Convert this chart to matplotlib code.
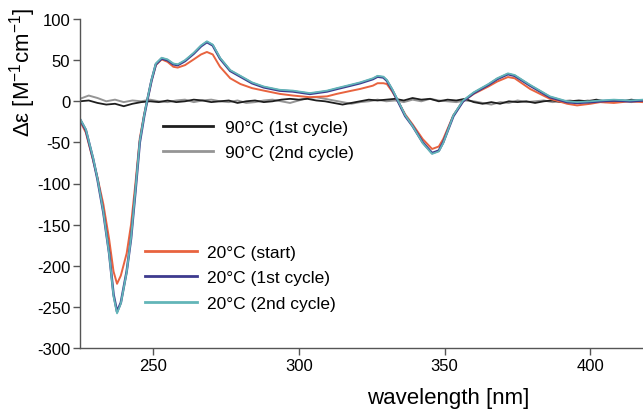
import matplotlib
matplotlib.use("Agg")
import matplotlib.pyplot as plt
from matplotlib.lines import Line2D

plt.rcParams['font.family'] = ['Liberation Sans', 'DejaVu Sans']
plt.rcParams['mathtext.fontset'] = 'custom'
plt.rcParams['mathtext.rm'] = 'Liberation Sans'
plt.rcParams['mathtext.default'] = 'regular'
plt.rcParams['axes.unicode_minus'] = False

# 20 C spectra
wl_20 = [225, 227, 229.5, 231, 233, 235, 236.5, 237.7, 239, 241, 242.5, 244, 245.5, 247, 248,
         249.5, 251, 253, 255, 257, 258.5, 261, 264, 266.5, 268.5, 270.5, 273, 276.5, 280, 284,
         288, 293.5, 298, 303.8, 309.7, 313, 317.6, 321, 325.4, 327, 329, 330.2, 332, 334,
         336.5, 339, 342.5, 345.7, 348, 349.5, 353, 356.3, 360, 365, 368, 371.7, 374, 379.3,
         386.1, 392, 395.4, 400, 403.3, 408, 413.5, 418]
cd_20_start = [-24, -38, -72, -93, -125, -168, -207, -222, -212, -185, -150, -100, -45, -16, 0,
               25, 44, 51, 48, 42, 41, 44, 51, 57, 60, 57, 42, 28, 21, 16,
               13, 9, 7, 5, 6, 9, 12.5, 15, 19, 22, 22, 21, 12, 0,
               -16, -28, -46, -58, -55, -46, -17, 0, 9, 18, 24, 29.5, 28, 15,
               3, -3, -5, -3, -1, -2, 0, -1]
cd_20_cyc1 = [-22, -35, -70, -95, -135, -185, -235, -256, -245, -207, -167, -110, -50, -18, 0,
              25, 45, 52, 50, 45, 44, 49, 58, 67, 72, 68, 52, 37, 30, 22,
              17, 13, 12, 9, 12, 15, 19, 22, 27, 30, 29, 25, 14, 0,
              -18, -30, -50, -63, -60, -50, -18, 0, 10, 20, 27, 33, 31, 19,
              5, -1, -2, -1, 0, 1, 0, 1]
cd_20_cyc2 = [-21, -34, -69, -94, -134, -186, -237, -258, -246, -208, -166, -108, -48, -17, 1,
              26, 46, 53, 51, 46, 45, 50, 59, 68, 73, 69, 53, 38, 31, 23,
              18, 14, 13, 10, 13, 16, 20, 23, 28, 31, 30, 26, 15, 1,
              -17, -30, -51, -64, -61, -51, -17, 1, 11, 21, 28, 34, 32, 20,
              6, 0, -1, 0, 1, 2, 1, 2]

# 90 C spectra (flat, just noise around zero)
wl_90 = [225, 228, 231, 234, 237, 240, 243, 246, 249, 252, 255, 258, 261, 264, 267, 270, 273,
         276, 279, 282, 285, 288, 291, 294, 297, 300, 303, 306, 309, 312, 315, 318, 321, 324,
         327, 330, 333, 336, 339, 342, 345, 348, 351, 354, 357, 360, 363, 366, 369, 372, 375,
         378, 381, 384, 387, 390, 393, 396, 399, 402, 405, 408, 411, 414, 418]
cd_90_cyc1 = [0, 1, -2, -4, -3, -6, -3, -1, 0, -1, 1, -1, 0, 2, 1, -1, 0,
              1, -2, 0, 1, -1, 0, 2, 3, 2, 3, 1, 0, -2, -4, -2, 0, 2,
              1, 2, 3, 1, 4, 2, 3, 0, 2, 1, 3, -1, -3, -1, -3, 0, -1,
              0, -2, 0, 1, -1, 0, 1, 0, 2, 0, 1, 0, 2, 0]
cd_90_cyc2 = [3, 7, 4, 0, 2, -1, 1, 0, 2, 0, -1, 1, 2, -1, 1, 2, 0,
              -1, 1, -2, -1, 1, 2, 0, -2, 1, 4, 5, 3, 1, -1, -3, -1, 0,
              2, 0, 1, -1, 2, 0, 3, 1, 0, -1, 1, 0, -2, -4, -1, -2, 1,
              -1, 0, 1, -1, 0, 1, -1, 1, 0, -1, 0, 1, -1, 1]

c_start = '#e8633f'
c_cyc1 = '#3d3a8e'
c_cyc2 = '#62b5b8'
c_90a = '#1e1e1e'
c_90b = '#959595'

fig = plt.figure(figsize=(6.43, 4.10), dpi=100)
ax = fig.add_axes([0.1244, 0.149, 0.8756, 0.802])

ax.plot(wl_90, cd_90_cyc2, color=c_90b, lw=1.4)
ax.plot(wl_90, cd_90_cyc1, color=c_90a, lw=1.3)
ax.plot(wl_20, cd_20_start, color=c_start, lw=1.4)
ax.plot(wl_20, cd_20_cyc1, color=c_cyc1, lw=1.8)
ax.plot(wl_20, cd_20_cyc2, color=c_cyc2, lw=1.3)

ax.set_xlim(225, 418)
ax.set_ylim(-300, 100)
ax.set_xticks([250, 300, 350, 400])
ax.set_yticks(range(-300, 101, 50))
ax.spines['top'].set_visible(False)
ax.spines['right'].set_visible(False)
for s in ('left', 'bottom'):
    ax.spines[s].set_color('#555555')
    ax.spines[s].set_linewidth(1.0)
ax.tick_params(direction='out', length=5, width=1.0, color='#555555', labelsize=12, pad=2)

ax.set_xlabel('wavelength [nm]', fontsize=16)
ax.xaxis.set_label_coords(0.654, -0.118)
ax.set_ylabel('Δε [M$^{-1}$cm$^{-1}$]', fontsize=16)
ax.yaxis.set_label_coords(-0.075, 0.842)

h90 = [Line2D([], [], color=c_90a, lw=2), Line2D([], [], color=c_90b, lw=2)]
leg1 = fig.legend(h90, ['90°C (1st cycle)', '90°C (2nd cycle)'], loc='upper left',
                  bbox_to_anchor=(0.2535, 0.706), frameon=False, fontsize=12.5,
                  handlelength=2.87, handletextpad=0.7, labelspacing=0.6,
                  borderpad=0, borderaxespad=0)
h20 = [Line2D([], [], color=c_start, lw=2), Line2D([], [], color=c_cyc1, lw=2),
       Line2D([], [], color=c_cyc2, lw=2)]
leg2 = fig.legend(h20, ['20°C (start)', '20°C (1st cycle)', '20°C (2nd cycle)'], loc='upper left',
                  bbox_to_anchor=(0.2255, 0.401), frameon=False, fontsize=12.5,
                  handlelength=3.0, handletextpad=0.58, labelspacing=0.6,
                  borderpad=0, borderaxespad=0)

fig.savefig('out.png', dpi=100)
